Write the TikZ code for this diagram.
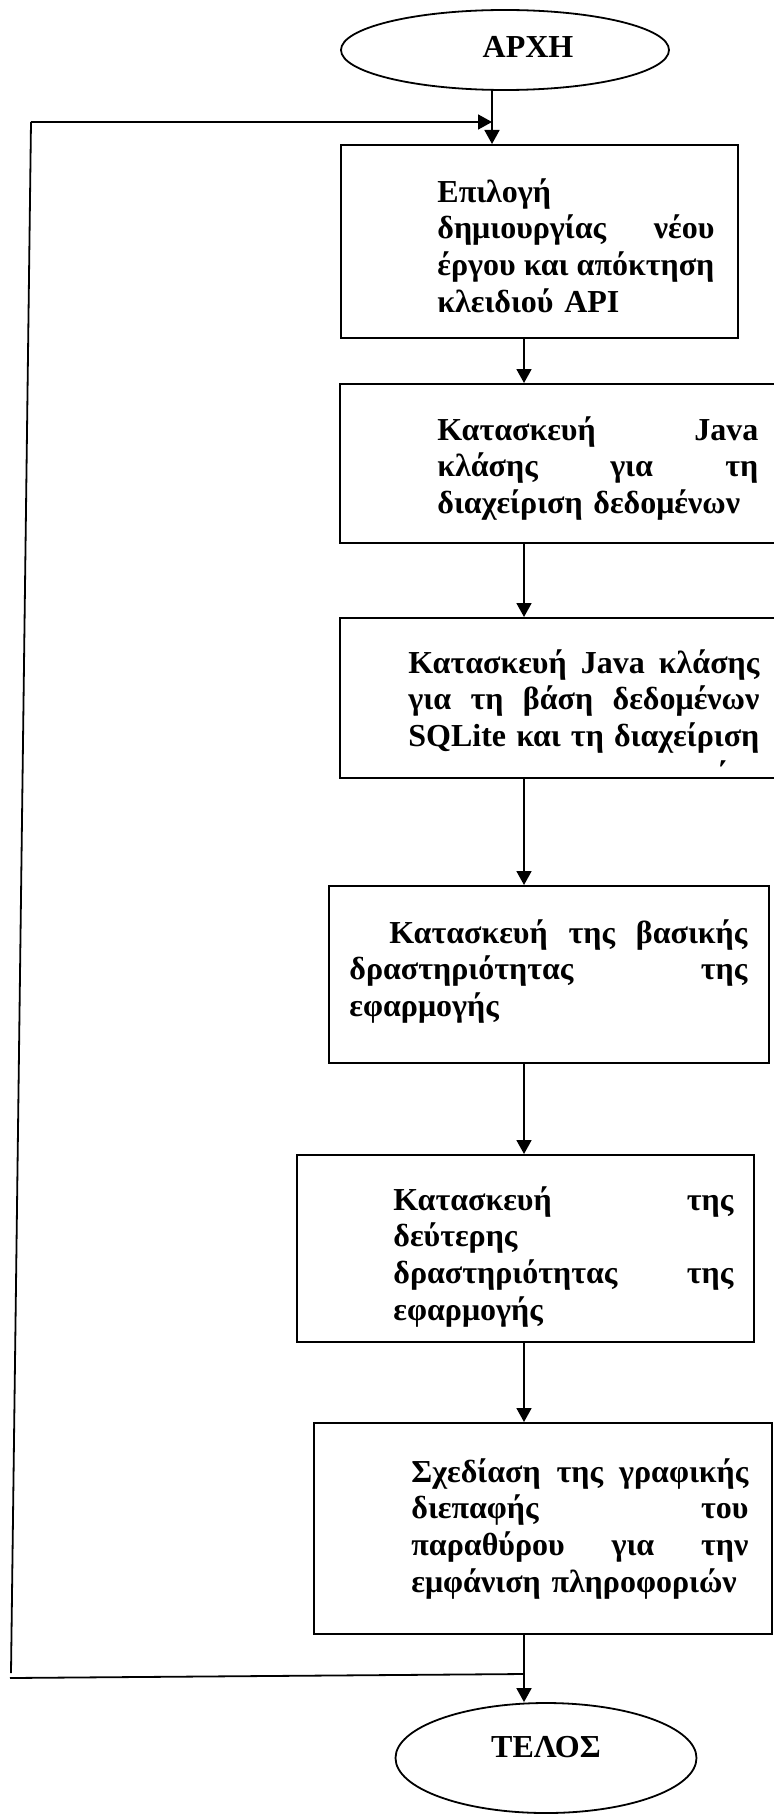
\documentclass[tikz,border=0pt]{standalone}
\usepackage{fontspec}
\setmainfont{Liberation Serif}
\usetikzlibrary{shapes.geometric,arrows.meta}
\newlength{\tw}
\newcommand{\jl}[1]{\leavevmode\hbox to \tw{#1}}
\newcommand{\gap}{\hspace{0.25em plus 1fill}}

\begin{document}
\begin{tikzpicture}[x=0.5pt,y=-0.5pt,
  box/.style={draw,line width=0.9pt,anchor=north west,inner sep=0pt},
  oval/.style={draw,ellipse,line width=0.9pt,inner sep=0pt},
  lbl/.style={font=\bfseries\fontsize{16}{18}\selectfont,inner sep=0pt},
  txt/.style={anchor=base west,inner sep=0pt,align=left,text width=#1,
    execute at begin node={\setlength{\tw}{#1}},font=\bfseries\fontsize{16}{18.35}\selectfont},
  txt/.default=40pt,
  arr/.style={line width=0.9pt,-{Triangle[length=7pt,width=7.5pt]}}]
\useasboundingbox (0,0) rectangle (774,1814);

\node [oval,minimum width=164pt,minimum height=40pt,label={[lbl,xshift=11.5pt,yshift=1.5pt]center:ΑΡΧΗ}] (0) at (505,50) {};
\node [box,minimum width=198.5pt,minimum height=96.5pt] (1) at (340,144) {};
\node [box,minimum width=220.5pt,minimum height=79.5pt] (2) at (339,383) {};
\node [box,minimum width=220.5pt,minimum height=80pt] (3) at (339,617) {};
\node [box,minimum width=220pt,minimum height=88.5pt] (4) at (328,885) {};
\node [box,minimum width=228.5pt,minimum height=93.5pt] (5) at (296,1154) {};
\node [box,minimum width=229pt,minimum height=105.5pt] (6) at (313,1422) {};
\node [oval,minimum width=150.5pt,minimum height=55pt,label={[lbl,yshift=5.5pt]center:ΤΕΛΟΣ}] (7) at (546,1758) {};

\node [txt=138.5pt] (t1) at (437,202) {Επιλογή\\ \jl{δημιουργίας\gap νέου}\\ \jl{έργου\gap και\gap απόκτηση}\\ κλειδιού API};
\node [txt=160.5pt] (t2) at (437,440) {\jl{Κατασκευή\gap Java}\\ \jl{κλάσης\gap για\gap τη}\\ διαχείριση δεδομένων};
\node [txt=175.5pt] (t3) at (408,673) {\jl{Κατασκευή\gap Java\gap κλάσης}\\ \jl{για\gap τη\gap βάση\gap δεδομένων}\\ \jl{SQLite\gap και\gap τη\gap διαχείριση}};
\node [txt] (t3b) at (716,784) {΄};
\node [txt=199pt] (t4) at (349,943) {\jl{\hspace*{20pt}Κατασκευή\gap της\gap βασικής}\\ \jl{δραστηριότητας\gap της}\\ εφαρμογής};
\node [txt=170pt] (t5) at (393,1210) {\jl{Κατασκευή\gap της}\\ δεύτερης\\ \jl{δραστηριότητας\gap της}\\ εφαρμογής};
\node [txt=168.5pt] (t6) at (411,1482) {\jl{Σχεδίαση\gap της\gap γραφικής}\\ \jl{διεπαφής\gap του}\\ \jl{παραθύρου\gap για\gap την}\\ εμφάνιση πληροφοριών};

\coordinate (top) at (492,122);
\coordinate (c) at (524,0);
\coordinate (l1) at (31,122);
\coordinate (l2) at (11,1673);
\coordinate (l3) at (10,1678);
\coordinate (l4) at (524,1674);

\draw[arr] (0.south -| top) -- (1.north -| top);
\draw[arr] (1.south -| c) -- (2.north -| c);
\draw[arr] (2.south -| c) -- (3.north -| c);
\draw[arr] (3.south -| c) -- (4.north -| c);
\draw[arr] (4.south -| c) -- (5.north -| c);
\draw[arr] (5.south -| c) -- (6.north -| c);
\draw[arr] (6.south -| c) -- (7.north -| c);

% return line
\draw[line width=0.9pt] (l4) -- (l3);
\draw[line width=0.9pt] (l2) -- (l1);
\draw[arr] (l1) -- (top);
\end{tikzpicture}
\end{document}
